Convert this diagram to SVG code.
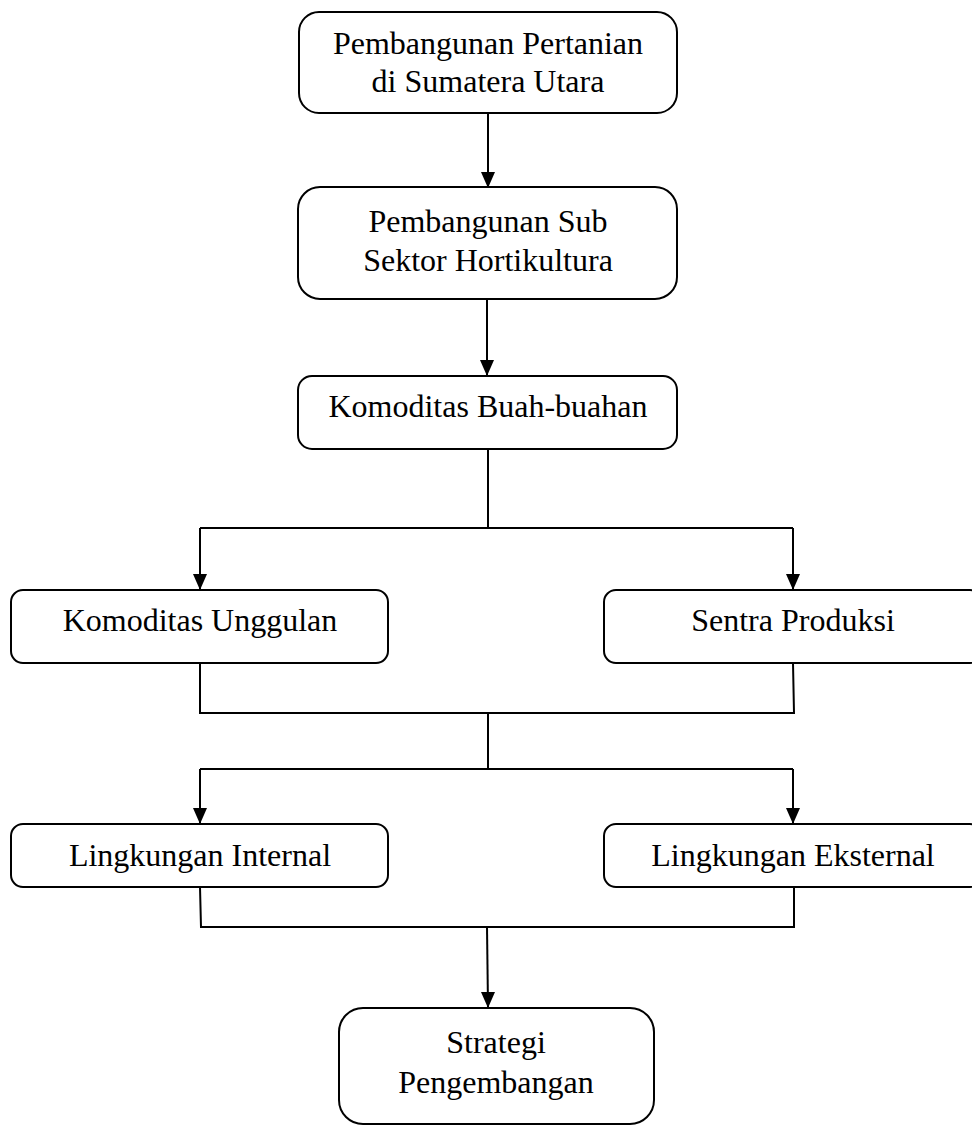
<svg xmlns="http://www.w3.org/2000/svg" width="972" height="1126" viewBox="0 0 972 1126">
<style>
.box{fill:#fff;stroke:#000;stroke-width:2}
.t{font-family:'Liberation Serif','Times New Roman',Times,serif;font-size:32px;fill:#000;text-anchor:middle}
.c{fill:none;stroke:#000;stroke-width:2}
</style>
<defs>
<marker id="ad" markerUnits="userSpaceOnUse" markerWidth="14" markerHeight="16" refX="7" refY="15" viewBox="0 0 14 16" orient="0">
<path d="M0,0 L14,0 L7,16 Z" fill="#000"/>
</marker>
</defs>
<rect width="972" height="1126" fill="#fff"/>
<g id="connectors">
<path class="c" d="M488,113 V187" marker-end="url(#ad)"/>
<path class="c" d="M487,299 V375" marker-end="url(#ad)"/>
<path class="c" d="M488,449 V528"/>
<path class="c" d="M200,528 H793"/>
<path class="c" d="M200,528 V589" marker-end="url(#ad)"/>
<path class="c" d="M793,528 V589" marker-end="url(#ad)"/>
<path class="c" d="M200,663 V713 H794 L793,663"/>
<path class="c" d="M488,713 V769"/>
<path class="c" d="M200,769 H793"/>
<path class="c" d="M200,769 V823" marker-end="url(#ad)"/>
<path class="c" d="M793,769 V823" marker-end="url(#ad)"/>
<path class="c" d="M200,887 L201,927 H794 V887"/>
<path class="c" d="M487,927 L488,1007" marker-end="url(#ad)"/>
</g>
<g id="n1">
<rect class="box" x="299" y="12" width="378" height="101" rx="20"/>
<text class="t" font-family="Liberation Serif, serif" x="488" y="54">Pembangunan Pertanian</text>
<text class="t" font-family="Liberation Serif, serif" x="488" y="92">di Sumatera Utara</text>
</g>
<g id="n2">
<rect class="box" x="298" y="187" width="379" height="112" rx="22"/>
<text class="t" font-family="Liberation Serif, serif" x="488" y="232">Pembangunan Sub</text>
<text class="t" font-family="Liberation Serif, serif" x="488" y="271">Sektor Hortikultura</text>
</g>
<g id="n3">
<rect class="box" x="298" y="376" width="379" height="73" rx="14"/>
<text class="t" font-family="Liberation Serif, serif" x="488" y="417">Komoditas Buah-buahan</text>
</g>
<g id="n4">
<rect class="box" x="11" y="590" width="377" height="73" rx="12"/>
<text class="t" font-family="Liberation Serif, serif" x="200" y="631">Komoditas Unggulan</text>
</g>
<g id="n5">
<rect class="box" x="604" y="590" width="378" height="73" rx="12"/>
<text class="t" font-family="Liberation Serif, serif" x="793" y="631">Sentra Produksi</text>
</g>
<g id="n6">
<rect class="box" x="11" y="824" width="377" height="63" rx="12"/>
<text class="t" font-family="Liberation Serif, serif" x="200" y="866">Lingkungan Internal</text>
</g>
<g id="n7">
<rect class="box" x="604" y="824" width="378" height="63" rx="12"/>
<text class="t" font-family="Liberation Serif, serif" x="793" y="866">Lingkungan Eksternal</text>
</g>
<g id="n8">
<rect class="box" x="339" y="1008" width="315" height="116" rx="24"/>
<text class="t" font-family="Liberation Serif, serif" x="496" y="1053">Strategi</text>
<text class="t" font-family="Liberation Serif, serif" x="496" y="1093">Pengembangan</text>
</g>
</svg>
